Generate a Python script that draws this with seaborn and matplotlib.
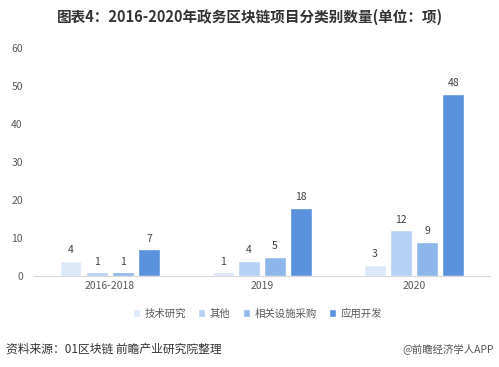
import pandas as pd
import matplotlib.pyplot as plt
import seaborn as sns

# data
periods = ['2016-2018', '2019', '2020']
categories = ['技术研究', '其他', '相关设施采购', '应用开发']
tech_research = [4, 1, 3]
other = [1, 4, 12]
facility = [1, 5, 9]
app_dev = [7, 18, 48]
colors = ['#DCE9F8', '#B5D1F3', '#8DB6EA', '#5A91DD']

rows = []
for cat, vals in zip(categories, [tech_research, other, facility, app_dev]):
    for p, v in zip(periods, vals):
        rows.append({'period': p, 'type': cat, 'count': v})
df = pd.DataFrame(rows)

sns.set_style('white')
plt.rcParams['font.family'] = ['Noto Sans CJK SC', 'DejaVu Sans']

fig = plt.figure(figsize=(4.99, 3.67), dpi=100)
ax = fig.add_axes([0.068, 0.248, 0.914, 0.621])

sns.barplot(data=df, x='period', y='count', hue='type', hue_order=categories,
            palette=colors, width=0.69, gap=0.17, ax=ax, saturation=1)

for cont in ax.containers:
    ax.bar_label(cont, padding=4, fontsize=7.5, color='#404040')

ax.set_ylim(0, 60)
ax.set_yticks(range(0, 61, 10))
ax.set_xlabel('')
ax.set_ylabel('')
ax.tick_params(axis='both', labelsize=7.5, colors='#595959', length=0)
ax.tick_params(axis='y', pad=8)
for s in ['top', 'right', 'left']:
    ax.spines[s].set_visible(False)
ax.spines['bottom'].set_color('#D9D9D9')

ax.legend(loc='upper center', bbox_to_anchor=(0.49, -0.1), ncol=4, frameon=False,
          fontsize=7.5, handlelength=0.7, handleheight=0.7, columnspacing=1.2,
          handletextpad=0.4, labelcolor='#595959')

fig.text(0.5, 0.955, '图表4：2016-2020年政务区块链项目分类别数量(单位：项)',
         ha='center', va='center', fontsize=10.5, fontweight='bold', color='#333333')
fig.text(0.012, 0.05, '资料来源：01区块链 前瞻产业研究院整理',
         ha='left', va='center', fontsize=8.5, color='#333333')
fig.text(0.99, 0.05, '@前瞻经济学人APP', ha='right', va='center',
         fontsize=7.5, color='#555555')

fig.savefig('out.png', dpi=100)
